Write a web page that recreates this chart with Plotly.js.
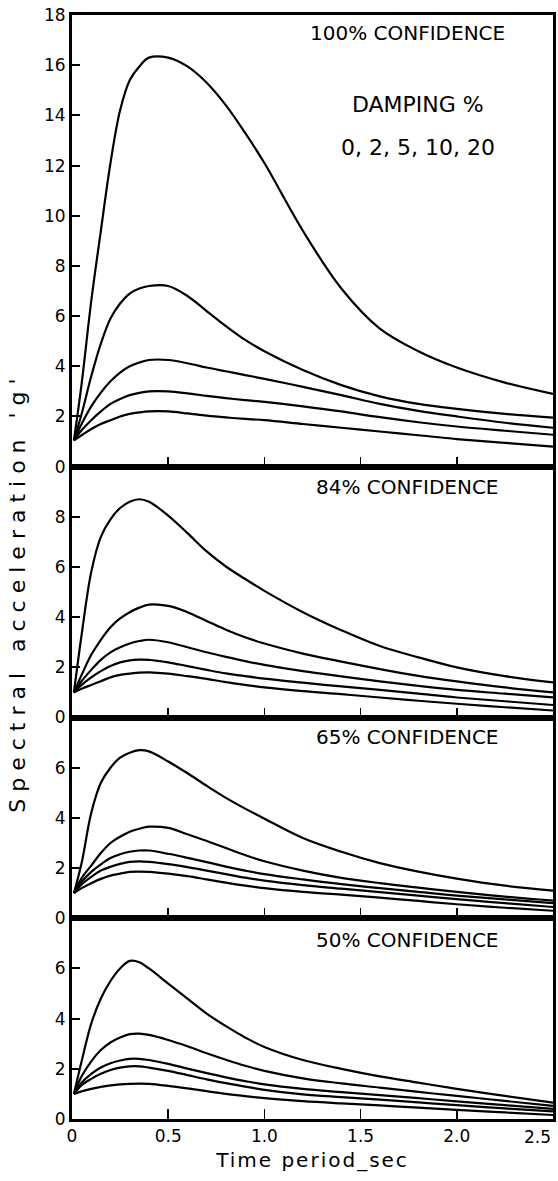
<!DOCTYPE html>
<html>
<head>
<meta charset="utf-8">
<script src="https://cdn.plot.ly/plotly-3.0.1.min.js"></script>
<style>
  html, body { margin: 0; padding: 0; background: #fff; }
  #chart { width: 558px; height: 1181px; }
  text.y2title { letter-spacing: 7px; }
  text.x4title { letter-spacing: 2px; }
</style>
</head>
<body>
<div id="chart"></div>
<script>
// Time period (sec)
const periods = [0.01, 0.05, 0.1, 0.15, 0.2, 0.25, 0.3, 0.35, 0.4, 0.5, 0.6, 0.7, 0.8, 0.9, 1.0, 1.2, 1.4, 1.6, 1.8, 2.0, 2.25, 2.5];
const dampingLabels = ["0%", "2%", "5%", "10%", "20%"];
const panelTitles = ["100% CONFIDENCE", "84% CONFIDENCE", "65% CONFIDENCE", "50% CONFIDENCE"];

// 100% confidence, damping 0,2,5,10,20 %
const c100_d0  = [1.05, 3.3, 6.6, 9.4, 12.1, 14.2, 15.4, 15.95, 16.3, 16.3, 15.95, 15.3, 14.4, 13.3, 12.1, 9.4, 7.1, 5.5, 4.6, 3.95, 3.35, 2.9];
const c100_d2  = [1.05, 2.1, 3.6, 4.9, 5.9, 6.5, 6.9, 7.1, 7.2, 7.2, 6.8, 6.2, 5.6, 5.05, 4.6, 3.85, 3.25, 2.8, 2.5, 2.3, 2.1, 1.95];
const c100_d5  = [1.05, 1.7, 2.4, 2.95, 3.4, 3.75, 4.0, 4.15, 4.25, 4.25, 4.12, 3.95, 3.8, 3.65, 3.5, 3.18, 2.85, 2.5, 2.22, 2.0, 1.75, 1.55];
const c100_d10 = [1.05, 1.45, 1.85, 2.2, 2.5, 2.7, 2.85, 2.94, 3.0, 3.0, 2.92, 2.82, 2.73, 2.65, 2.58, 2.4, 2.2, 1.97, 1.77, 1.6, 1.43, 1.27];
const c100_d20 = [1.05, 1.25, 1.5, 1.7, 1.85, 2.0, 2.1, 2.16, 2.2, 2.2, 2.12, 2.03, 1.96, 1.9, 1.85, 1.7, 1.55, 1.4, 1.25, 1.1, 0.95, 0.8];

// 84% confidence
const c84_d0  = [1.0, 3.3, 5.8, 7.2, 7.9, 8.35, 8.6, 8.7, 8.6, 8.05, 7.35, 6.62, 6.02, 5.52, 5.05, 4.2, 3.48, 2.85, 2.4, 2.0, 1.65, 1.4];
const c84_d2  = [1.0, 1.7, 2.5, 3.1, 3.6, 3.95, 4.2, 4.38, 4.5, 4.45, 4.2, 3.85, 3.5, 3.2, 2.95, 2.55, 2.23, 1.93, 1.66, 1.44, 1.2, 1.0];
const c84_d5  = [1.0, 1.45, 1.9, 2.3, 2.6, 2.8, 2.95, 3.05, 3.1, 3.0, 2.8, 2.6, 2.42, 2.25, 2.1, 1.85, 1.64, 1.44, 1.26, 1.1, 0.95, 0.8];
const c84_d10 = [1.0, 1.3, 1.6, 1.85, 2.05, 2.2, 2.28, 2.31, 2.3, 2.2, 2.05, 1.9, 1.76, 1.65, 1.55, 1.39, 1.24, 1.1, 0.95, 0.8, 0.65, 0.5];
const c84_d20 = [1.0, 1.15, 1.3, 1.45, 1.6, 1.7, 1.75, 1.79, 1.8, 1.75, 1.65, 1.54, 1.41, 1.3, 1.2, 1.05, 0.93, 0.8, 0.67, 0.55, 0.41, 0.28];

// 65% confidence
const c65_d0  = [1.0, 2.2, 4.2, 5.4, 6.0, 6.4, 6.6, 6.7, 6.65, 6.25, 5.78, 5.28, 4.8, 4.37, 3.97, 3.2, 2.65, 2.2, 1.86, 1.58, 1.3, 1.1];
const c65_d2  = [1.0, 1.6, 2.1, 2.6, 3.0, 3.25, 3.45, 3.57, 3.65, 3.6, 3.35, 3.08, 2.8, 2.52, 2.27, 1.9, 1.61, 1.4, 1.22, 1.05, 0.86, 0.7];
const c65_d5  = [1.0, 1.45, 1.85, 2.15, 2.4, 2.55, 2.65, 2.7, 2.7, 2.57, 2.41, 2.24, 2.06, 1.9, 1.76, 1.55, 1.36, 1.2, 1.05, 0.9, 0.75, 0.6];
const c65_d10 = [1.0, 1.35, 1.65, 1.9, 2.05, 2.17, 2.25, 2.27, 2.25, 2.16, 2.04, 1.9, 1.76, 1.62, 1.5, 1.32, 1.18, 1.04, 0.9, 0.76, 0.6, 0.45];
const c65_d20 = [1.0, 1.2, 1.4, 1.57, 1.7, 1.78, 1.85, 1.86, 1.85, 1.78, 1.68, 1.55, 1.42, 1.3, 1.2, 1.05, 0.94, 0.82, 0.69, 0.56, 0.42, 0.3];

// 50% confidence
const c50_d0  = [1.0, 2.3, 3.8, 4.8, 5.5, 6.0, 6.3, 6.25, 6.0, 5.4, 4.8, 4.2, 3.7, 3.25, 2.87, 2.35, 2.0, 1.7, 1.45, 1.2, 0.92, 0.65];
const c50_d2  = [1.0, 1.7, 2.3, 2.75, 3.05, 3.25, 3.38, 3.4, 3.35, 3.15, 2.9, 2.62, 2.36, 2.12, 1.92, 1.62, 1.42, 1.25, 1.08, 0.92, 0.72, 0.52];
const c50_d5  = [1.0, 1.45, 1.8, 2.05, 2.22, 2.33, 2.4, 2.4, 2.35, 2.2, 2.01, 1.83, 1.66, 1.51, 1.38, 1.2, 1.07, 0.95, 0.83, 0.7, 0.55, 0.4];
const c50_d10 = [1.0, 1.35, 1.6, 1.8, 1.95, 2.05, 2.1, 2.1, 2.05, 1.92, 1.75, 1.58, 1.43, 1.29, 1.16, 0.98, 0.87, 0.77, 0.66, 0.55, 0.42, 0.3];
const c50_d20 = [1.0, 1.1, 1.2, 1.28, 1.34, 1.38, 1.4, 1.41, 1.4, 1.32, 1.22, 1.11, 1.0, 0.91, 0.83, 0.71, 0.62, 0.54, 0.45, 0.36, 0.26, 0.16];

const xTickVals = [0, 0.5, 1.0, 1.5, 2.0, 2.5];
const xTickText = ["0", "0.5", "1.0", "1.5", "2.0", ""];
const xLastLabel = "2.5";
const yTicks1 = [0, 2, 4, 6, 8, 10, 12, 14, 16, 18];
const yTicks2 = [0, 2, 4, 6, 8];
const yTicks3 = [0, 2, 4, 6];
const yTicks4 = [0, 2, 4, 6];

const panels = [
  {series: [c100_d0, c100_d2, c100_d5, c100_d10, c100_d20], xa: "x",  ya: "y"},
  {series: [c84_d0,  c84_d2,  c84_d5,  c84_d10,  c84_d20],  xa: "x2", ya: "y2"},
  {series: [c65_d0,  c65_d2,  c65_d5,  c65_d10,  c65_d20],  xa: "x3", ya: "y3"},
  {series: [c50_d0,  c50_d2,  c50_d5,  c50_d10,  c50_d20],  xa: "x4", ya: "y4"}
];

const traces = [];
panels.forEach((p, pi) => {
  p.series.forEach((vals, di) => {
    traces.push({
      x: periods, y: vals, xaxis: p.xa, yaxis: p.ya,
      type: "scatter", mode: "lines",
      name: panelTitles[pi] + " " + dampingLabels[di],
      line: {color: "#000", width: 2.2, shape: "spline", smoothing: 1.0},
      hoverinfo: "skip", showlegend: false
    });
  });
});

const fontFam = "DejaVu Sans, sans-serif";
function xax(anchor, showLabels) {
  return {
    anchor: anchor, range: [0, 2.5], showgrid: false, zeroline: false,
    showline: true, linecolor: "#000", linewidth: 3, mirror: true,
    ticks: "inside", ticklen: 10, tickwidth: 1.6, tickcolor: "#000",
    tickvals: xTickVals, ticktext: xTickText, showticklabels: showLabels,
    tickfont: {family: fontFam, size: 17, color: "#000"}
  };
}
function yax(anchor, range, dom, tv) {
  return {
    anchor: anchor, range: range, domain: dom, showgrid: false, zeroline: false,
    showline: true, linecolor: "#000", linewidth: 3, mirror: true,
    ticks: "inside", ticklen: 8, tickwidth: 2, tickcolor: "#000",
    tickvals: tv, ticktext: tv.map(String),
    tickfont: {family: fontFam, size: 17, color: "#000"}
  };
}

const U = 44; // total units stacked: 18 + 10 + 8 + 8
const annFont = {family: fontFam, size: 20, color: "#000"};
const layout = {
  width: 558, height: 1181,
  margin: {l: 72, r: 5, t: 15, b: 62},
  paper_bgcolor: "#fff", plot_bgcolor: "#fff",
  font: {family: fontFam, color: "#000"},
  showlegend: false,
  xaxis: xax("y", false),
  xaxis2: xax("y2", false),
  xaxis3: xax("y3", false),
  xaxis4: Object.assign(xax("y4", true), {
    title: {text: "Time period_sec", font: {family: fontFam, size: 20, color: "#000"}, standoff: 8}
  }),
  yaxis: yax("x", [0, 18], [26 / U, 1], yTicks1),
  yaxis2: Object.assign(yax("x2", [0, 10], [16 / U, 26 / U], yTicks2), {
    title: {text: "Spectral acceleration 'g'", font: {family: fontFam, size: 22, color: "#000"}, standoff: 24}
  }),
  yaxis3: yax("x3", [0, 8], [8 / U, 16 / U], yTicks3),
  yaxis4: yax("x4", [0, 8], [0, 8 / U], yTicks4),
  annotations: [
    {text: panelTitles[0], x: 0.6965, y: 0.9837},
    {text: "DAMPING %", x: 0.7193, y: 0.9185, font: {family: fontFam, size: 22, color: "#000"}},
    {text: "0, 2, 5, 10, 20", x: 0.7193, y: 0.8804, font: {family: fontFam, size: 22, color: "#000"}},
    {text: panelTitles[1], x: 0.6965, y: 0.5725},
    {text: panelTitles[2], x: 0.6965, y: 0.3460},
    {text: panelTitles[3], x: 0.6965, y: 0.1621}
  ].map(a => Object.assign({
    xref: "paper", yref: "paper", showarrow: false,
    xanchor: "center", yanchor: "middle", font: annFont
  }, a)).concat([{
    text: xLastLabel, xref: "x4", x: 2.5, yref: "paper", y: -0.0163,
    xanchor: "right", yanchor: "middle", showarrow: false,
    font: {family: fontFam, size: 17, color: "#000"}
  }])
};

Plotly.newPlot("chart", traces, layout, {staticPlot: true, displayModeBar: false});
</script>
</body>
</html>
